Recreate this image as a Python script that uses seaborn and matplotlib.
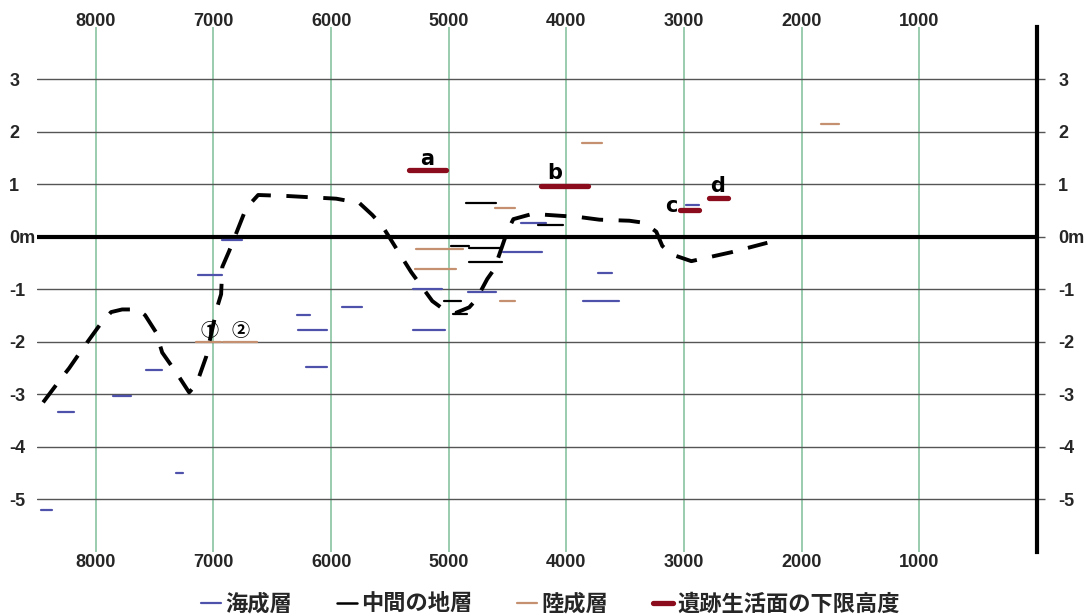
import numpy as np
import pandas as pd
import matplotlib
matplotlib.use("Agg")
import matplotlib.pyplot as plt
import seaborn as sns
from matplotlib.lines import Line2D
from matplotlib.font_manager import FontProperties

# ---------------- data (years BP, height in m) ----------------
x_ticks = [8000, 7000, 6000, 5000, 4000, 3000, 2000, 1000]
x_tick_labels = ["8000", "7000", "6000", "5000", "4000", "3000", "2000", "1000"]
y_ticks = [-5, -4, -3, -2, -1, 0, 1, 2, 3]
y_tick_labels = ["-5", "-4", "-3", "-2", "-1", "0m", "1", "2", "3"]

layer_names = ["海成層", "中間の地層", "陸成層", "遺跡生活面の下限高度"]

# 海成層 (marine strata)
marine_start = [8468, 8318, 7853, 7572, 7320, 7128, 6925, 6288, 6278, 6210, 5904,
                5308, 5300, 4834, 4537, 4384, 3734, 3862, 2983]
marine_end = [8374, 8184, 7700, 7436, 7255, 6925, 6755, 6176, 6032, 6032, 5734,
              5055, 5036, 4596, 4205, 4172, 3615, 3556, 2876]
marine_h = [-5.20, -3.33, -3.03, -2.54, -4.49, -0.72, -0.06, -1.48, -1.78, -2.48, -1.34,
            -1.00, -1.77, -1.05, -0.28, 0.26, -0.68, -1.22, 0.61]

# 中間の地層 (intermediate strata)
inter_start = [4857, 4244, 4983, 4826, 4826, 5039, 4962]
inter_end = [4600, 4032, 4826, 4548, 4548, 4895, 4843]
inter_h = [0.64, 0.22, -0.18, -0.21, -0.48, -1.21, -1.47]

# 陸成層 (terrestrial strata)
land_start = [7150, 6918, 5279, 5285, 4604, 4565, 3864, 1838]
land_end = [6937, 6634, 4883, 4939, 4434, 4440, 3694, 1685]
land_h = [-2.00, -2.00, -0.22, -0.61, 0.55, -1.22, 1.79, 2.15]
land_marks = ["①", "②"]

# 遺跡生活面の下限高度 (lowest living surface of sites)
site_names = ["a", "b", "c", "d"]
site_start = [5336, 4220, 3034, 2792]
site_end = [5024, 3820, 2876, 2630]
site_h = [1.27, 0.97, 0.52, 0.75]

# estimated sea-level curve (dashed)
curve_year = [8448, 8304, 8227, 8116, 7955, 7870, 7776, 7640, 7581, 7487, 7436, 7317,
              7207, 7147, 7122, 7062, 6969, 6935, 6925, 6867, 6722, 6620, 6365, 5957,
              5761, 5650, 5565, 5412, 5319, 5140, 5055, 4945, 4826, 4766, 4673, 4613,
              4502, 4451, 4290, 3890, 3720, 3465, 3338, 3236, 3185, 3108, 2938, 2598, 2292]
curve_h = [-3.15, -2.72, -2.50, -2.14, -1.64, -1.43, -1.38, -1.38, -1.49, -1.82, -2.20, -2.58,
           -2.96, -2.81, -2.66, -2.28, -1.34, -1.09, -0.57, -0.27, 0.55, 0.80, 0.78, 0.73,
           0.65, 0.42, 0.21, -0.34, -0.67, -1.22, -1.36, -1.45, -1.34, -1.19, -0.80, -0.61,
           0.11, 0.34, 0.44, 0.38, 0.33, 0.31, 0.27, 0.10, -0.17, -0.33, -0.46, -0.29, -0.11]

# ---------------- style ----------------
sns.set_style("white")
plt.rcParams["font.family"] = ["Liberation Sans", "Noto Sans CJK JP", "DejaVu Sans"]

C_BLUE = "#4f52aa"
C_BLACK = "#000000"
C_BROWN = "#c49070"
C_RED = "#8b0c1c"
C_GREEN = "#93c8a8"
C_GRAY = "#555555"


def seg_frame(starts, ends, heights, layer):
    rows = []
    for i, (s, e, h) in enumerate(zip(starts, ends, heights)):
        rows.append({"seg": f"{layer}{i}", "layer": layer, "year": s, "h": h})
        rows.append({"seg": f"{layer}{i}", "layer": layer, "year": e, "h": h})
    return pd.DataFrame(rows)


df_thin = pd.concat([
    seg_frame(marine_start, marine_end, marine_h, layer_names[0]),
    seg_frame(inter_start, inter_end, inter_h, layer_names[1]),
    seg_frame(land_start, land_end, land_h, layer_names[2]),
], ignore_index=True)
df_site = seg_frame(site_start, site_end, site_h, layer_names[3])

fig = plt.figure(figsize=(10.9, 6.15), dpi=100)
fig.patch.set_facecolor("white")
ax = fig.add_axes([37 / 1090, 1 - 552 / 615, 1000 / 1090, 525 / 615])
ax.set_facecolor("white")

# grid
ax.set_xlim(8500, 0)
ax.set_ylim(-6, 4)
ax.set_xticks(x_ticks)
ax.set_xticklabels(x_tick_labels)
ax.set_yticks(y_ticks)
ax.set_yticklabels(y_tick_labels)
ax.xaxis.grid(True, color=C_GREEN, lw=1.3)
ax.yaxis.grid(True, color=C_GRAY, lw=1.0)
ax.set_axisbelow(True)
for s in ax.spines.values():
    s.set_visible(False)

ax.axhline(0, color="black", lw=3.0, zorder=1.8)

# strata
sns.lineplot(data=df_thin, x="year", y="h", hue="layer", units="seg", estimator=None,
             sort=False, palette={layer_names[0]: C_BLUE, layer_names[1]: C_BLACK,
                                  layer_names[2]: C_BROWN},
             linewidth=1.6, legend=False, ax=ax, zorder=3)
sns.lineplot(data=df_site, x="year", y="h", units="seg", estimator=None, sort=False,
             color=C_RED, linewidth=3.8, solid_capstyle="round", legend=False, ax=ax, zorder=4)
sns.lineplot(x=curve_year, y=curve_h, estimator=None, sort=False, color="black",
             linewidth=2.8, linestyle=(0, (5.5, 4.0)), legend=False, ax=ax, zorder=3)

# labels a-d
site_offsets = [(0, 8), (-7, 9.5), (-13, 3), (0, 8.5)]
for name, s, e, h, off in zip(site_names, site_start, site_end, site_h, site_offsets):
    ax.annotate(name, xy=((s + e) / 2, h), xytext=off, textcoords="offset points",
                ha="center", va="center", fontsize=15, fontweight="bold",
                family="DejaVu Sans", color="black")
for mark, s, e, h in zip(land_marks, land_start[:2], land_end[:2], land_h[:2]):
    ax.annotate(mark, xy=((s + e) / 2, h), xytext=(0.5, 8.5), textcoords="offset points",
                ha="center", va="center", fontsize=13, fontweight="bold",
                family=["Noto Sans CJK JP", "DejaVu Sans"], color="black")

# ticks
tick_font = {"family": "Liberation Sans", "weight": "bold", "size": 13}
ax.tick_params(axis="x", length=0, top=False, bottom=False, labeltop=False,
               labelbottom=True, pad=1.5)
for t in ax.xaxis.get_major_ticks():
    t.label1.set_fontproperties(FontProperties(**tick_font))
ax.tick_params(axis="y", left=False, right=False, labelleft=True, labelright=False,
               length=0, pad=20)
for t in ax.yaxis.get_major_ticks():
    t.label1.set_horizontalalignment("left")
    t.label1.set_fontproperties(FontProperties(**tick_font))
ax.set_xlabel("")
ax.set_ylabel("")

# right-hand axis labels
ax2 = ax.twinx()
ax2.set_ylim(-6, 4)
ax2.set_yticks(y_ticks)
ax2.set_yticklabels(y_tick_labels)
for k, s in ax2.spines.items():
    s.set_visible(k == "right")
ax2.spines["right"].set_linewidth(3.0)
ax2.spines["right"].set_color("black")
ax2.tick_params(axis="y", right=True, left=False, labelright=True, labelleft=False,
                length=6, width=1.0, color=C_GRAY, pad=9.3)
for t in ax2.yaxis.get_major_ticks():
    t.label2.set_fontproperties(FontProperties(**tick_font))
ax2.set_ylabel("")

# top axis labels
ax3 = ax.twiny()
ax3.set_xlim(8500, 0)
ax3.set_xticks(x_ticks)
ax3.set_xticklabels(x_tick_labels)
for s in ax3.spines.values():
    s.set_visible(False)
ax3.tick_params(axis="x", top=False, bottom=False, labeltop=True, labelbottom=False,
                length=0, pad=-2.5)
for t in ax3.xaxis.get_major_ticks():
    t.label2.set_fontproperties(FontProperties(**tick_font))
ax3.set_xlabel("")

# legend
handles = [Line2D([], [], color=C_BLUE, lw=1.6),
           Line2D([], [], color=C_BLACK, lw=1.8),
           Line2D([], [], color=C_BROWN, lw=1.6),
           Line2D([], [], color=C_RED, lw=3.8, solid_capstyle="round")]
fig.legend(handles, layer_names, loc="lower center", bbox_to_anchor=(0.505, -0.033),
           ncol=4, frameon=False,
           prop=FontProperties(family="Noto Sans CJK JP", weight="bold", size=16),
           handlelength=0.9, handletextpad=0.2, columnspacing=2.0)

fig.savefig("out.png", dpi=100, facecolor="white")
